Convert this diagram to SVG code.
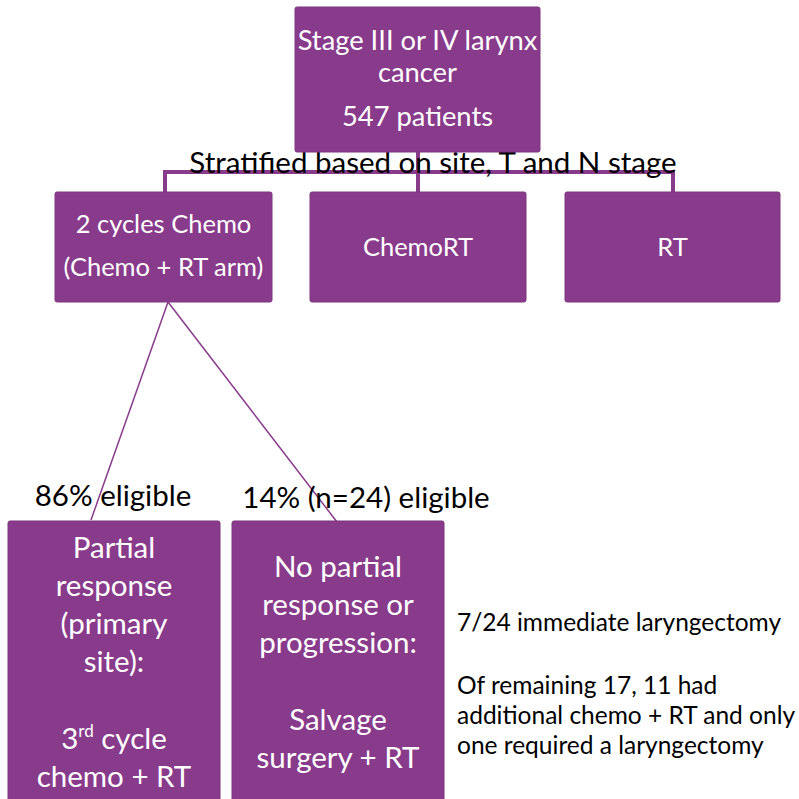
<svg xmlns="http://www.w3.org/2000/svg" width="799" height="799" viewBox="0 0 799 799">
<style>
.box{fill:#893B8B;stroke:#7E3580;stroke-width:1}
.wt{font-family:Lato,"Open Sans","Liberation Sans",sans-serif;fill:#FFFFFF;text-anchor:middle}
.bt{font-family:Lato,"Open Sans","Liberation Sans",sans-serif;fill:#000000}
.thick{stroke:#893B8B;stroke-width:4;fill:none}
.thin{stroke:#893B8B;stroke-width:1.5;fill:none}
</style>
<rect width="799" height="799" fill="#FFFFFF"/>
<g id="connectors">
<path class="thick" d="M418,152 V192 M165,192 V172 H673 V192"/>
<line class="thin" x1="168" y1="302" x2="91" y2="520"/>
<line class="thin" x1="168" y1="302" x2="337" y2="522"/>
</g>
<g id="stratified-label">
<text class="bt" x="433" y="173" font-size="29.5" text-anchor="middle">Stratified based on site, T and N stage</text>
</g>
<g id="top">
<rect class="box" x="295" y="7" width="245" height="145" rx="2"/>
<text class="wt" font-size="27.3"><tspan x="417.5" y="50">Stage III or IV larynx</tspan><tspan x="417.5" y="82">cancer</tspan><tspan x="417.5" y="126">547 patients</tspan></text>
</g>
<g id="chemo">
<rect class="box" x="55" y="192" width="217" height="110" rx="2"/>
<text class="wt" font-size="25.5"><tspan x="163.5" y="233">2 cycles Chemo</tspan><tspan x="163.5" y="276">(Chemo + RT arm)</tspan></text>
</g>
<g id="chemort">
<rect class="box" x="310" y="192" width="216" height="110" rx="2"/>
<text class="wt" font-size="25.5" x="418" y="256">ChemoRT</text>
</g>
<g id="rt">
<rect class="box" x="565" y="192" width="215" height="110" rx="2"/>
<text class="wt" font-size="25.5" x="672.5" y="256">RT</text>
</g>
<g id="label-86">
<text class="bt" x="113" y="506" font-size="29.5" text-anchor="middle">86% eligible</text>
</g>
<g id="label-14">
<text class="bt" x="366" y="508" font-size="29.5" text-anchor="middle">14% (n=24) eligible</text>
</g>
<g id="partial">
<rect class="box" x="8" y="521" width="212" height="290" rx="2"/>
<text class="wt" font-size="29.5"><tspan x="114" y="558">Partial</tspan><tspan x="114" y="596">response</tspan><tspan x="114" y="634">(primary</tspan><tspan x="114" y="672">site):</tspan><tspan x="114" y="749">3<tspan font-size="17" dy="-12">rd</tspan><tspan dy="12"> cycle</tspan></tspan><tspan x="114" y="787">chemo + RT</tspan></text>
</g>
<g id="no-partial">
<rect class="box" x="232" y="521" width="212" height="290" rx="2"/>
<text class="wt" font-size="29.5"><tspan x="338" y="577">No partial</tspan><tspan x="338" y="615">response or</tspan><tspan x="338" y="653">progression:</tspan><tspan x="338" y="730">Salvage</tspan><tspan x="338" y="768">surgery + RT</tspan></text>
</g>
<g id="notes">
<text class="bt" font-size="24.5"><tspan x="457" y="631">7/24 immediate laryngectomy</tspan><tspan x="457" y="694">Of remaining 17, 11 had</tspan><tspan x="457" y="724">additional chemo + RT and only</tspan><tspan x="457" y="754">one required a laryngectomy</tspan></text>
</g>
</svg>
